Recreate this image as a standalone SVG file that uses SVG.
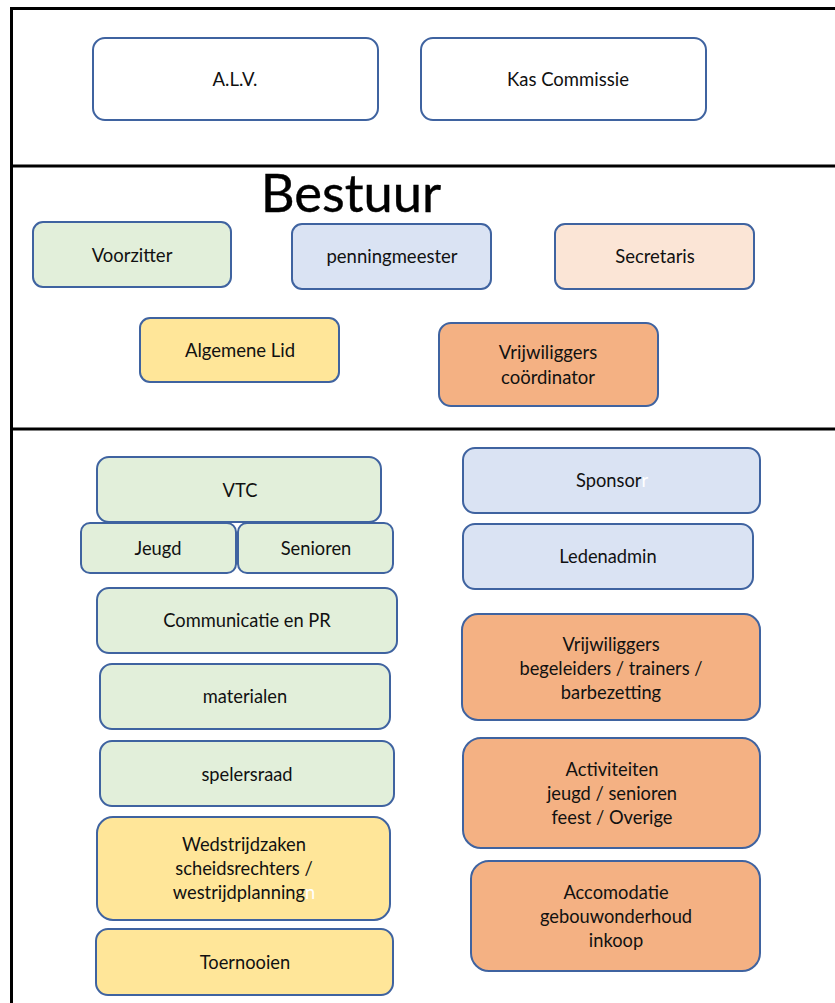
<svg xmlns="http://www.w3.org/2000/svg" width="835" height="1003" viewBox="0 0 835 1003">
<style>
.box{stroke:#3f63a0;stroke-width:2}
.w{fill:#ffffff}
.g{fill:#e2efda}
.b{fill:#dae3f3}
.p{fill:#fbe5d6}
.y{fill:#ffe699}
.o{fill:#f4b183}
text{font-family:Lato,"Liberation Sans",sans-serif;fill:#111;text-anchor:middle}
.s{font-size:18.5px}
.m{font-size:18.3px}
.frame{stroke:#000;stroke-width:3;fill:none}
</style>
<rect width="835" height="1003" fill="#fff"/>
<g id="frame">
<path class="frame" d="M11.5 1003V8.5H835M11.5 166H835M11.5 429H835"/>
</g>
<g id="title"><text x="351" y="212" style="font-size:52.5px;fill:#000;stroke:#000;stroke-width:0.4">Bestuur</text></g>
<g id="alv"><rect class="box w" x="93" y="38" width="285" height="82" rx="12"/><text class="s" x="235" y="86">A.L.V.</text></g>
<g id="kas"><rect class="box w" x="421" y="38" width="285" height="82" rx="12"/><text class="s" x="568" y="86">Kas Commissie</text></g>
<g id="voorzitter"><rect class="box g" x="33" y="222" width="198" height="65" rx="10"/><text class="s" x="132" y="262">Voorzitter</text></g>
<g id="penningmeester"><rect class="box b" x="292" y="224" width="199" height="65" rx="10"/><text class="s" x="392" y="263">penningmeester</text></g>
<g id="secretaris"><rect class="box p" x="555" y="224" width="199" height="65" rx="10"/><text class="s" x="655" y="263">Secretaris</text></g>
<g id="algemene"><rect class="box y" x="140" y="318" width="199" height="64" rx="10"/><text class="s" x="240" y="357">Algemene Lid</text></g>
<g id="vrijwcoord"><rect class="box o" x="439" y="323" width="219" height="83" rx="12"/><text class="s" x="548" y="359">Vrijwiliggers</text><text class="s" x="548" y="384">coördinator</text></g>
<g id="vtc"><rect class="box g" x="97" y="457" width="284" height="65" rx="12"/><text class="m" x="240" y="497">VTC</text></g>
<g id="jeugd"><rect class="box g" x="81" y="523" width="155" height="50" rx="9"/><text class="m" x="158" y="555">Jeugd</text></g>
<g id="senioren"><rect class="box g" x="238" y="523" width="155" height="50" rx="9"/><text class="m" x="316" y="555">Senioren</text></g>
<g id="communicatie"><rect class="box g" x="97" y="588" width="300" height="65" rx="12"/><text class="m" x="247" y="627">Communicatie en PR</text></g>
<g id="materialen"><rect class="box g" x="100" y="664" width="290" height="65" rx="12"/><text class="m" x="245" y="703">materialen</text></g>
<g id="spelersraad"><rect class="box g" x="100" y="741" width="294" height="65" rx="12"/><text class="m" x="247" y="781">spelersraad</text></g>
<g id="wedstrijdzaken"><rect class="box y" x="97" y="817" width="293" height="103" rx="16"/><text class="m" x="244" y="851">Wedstrijdzaken</text><text class="m" x="244" y="875">scheidsrechters /</text><text class="m" x="244" y="899">westrijdplanning<tspan fill="#fff">n</tspan></text></g>
<g id="toernooien"><rect class="box y" x="96" y="929" width="297" height="66" rx="12"/><text class="m" x="245" y="969">Toernooien</text></g>
<g id="sponsor"><rect class="box b" x="463" y="448" width="297" height="65" rx="12"/><text class="m" x="612" y="487">Sponsor<tspan fill="#fff">r</tspan></text></g>
<g id="ledenadmin"><rect class="box b" x="463" y="524" width="290" height="65" rx="12"/><text class="m" x="608" y="563">Ledenadmin</text></g>
<g id="vrijwbeg"><rect class="box o" x="462" y="614" width="298" height="106" rx="16"/><text class="m" x="611" y="651">Vrijwiliggers</text><text class="m" x="611" y="675">begeleiders / trainers /</text><text class="m" x="611" y="699">barbezetting</text></g>
<g id="activiteiten"><rect class="box o" x="463" y="738" width="297" height="110" rx="18"/><text class="m" x="612" y="776">Activiteiten</text><text class="m" x="612" y="800">jeugd / senioren</text><text class="m" x="612" y="824">feest / Overige</text></g>
<g id="accomodatie"><rect class="box o" x="471" y="861" width="289" height="110" rx="18"/><text class="m" x="616" y="899">Accomodatie</text><text class="m" x="616" y="923">gebouwonderhoud</text><text class="m" x="616" y="947">inkoop</text></g>
<g id="connectors"/>
</svg>
